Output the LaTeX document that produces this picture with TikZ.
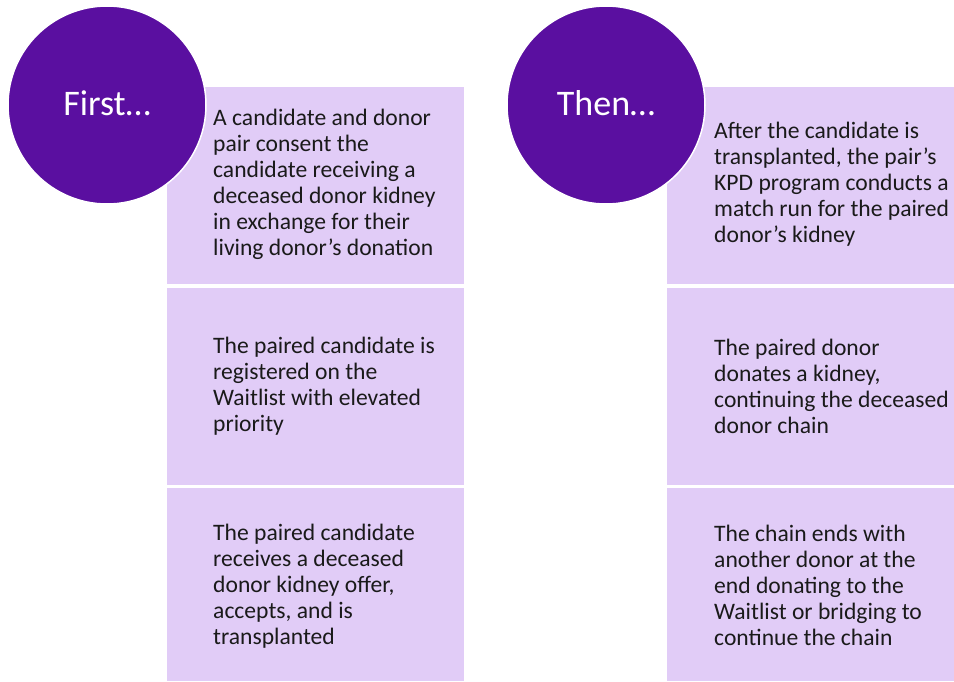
\documentclass[tikz,border=0pt]{standalone}
\usepackage{fontspec}
\setmainfont{Carlito}
\definecolor{boxfill}{HTML}{E1CCF7}
\definecolor{circfill}{HTML}{5A0FA0}
\definecolor{txt}{HTML}{1A1A1A}
\begin{document}
\begin{tikzpicture}[x=1pt,y=-1pt,
  stepbox/.style={rectangle,fill=boxfill,draw=none,anchor=north west,inner sep=0pt},
  steptext/.style={anchor=west,align=left,inner sep=0pt,text=txt,font=\fontsize{23.6}{26}\selectfont},
  headcirc/.style={circle,fill=circfill,draw=white,line width=1.5pt,minimum size=198pt,inner sep=0pt},
  headtext/.style={text=white,font=\fontsize{36}{40}\selectfont,inner sep=0pt}]
\useasboundingbox (0,0) rectangle (954,681);
% left column
\node[stepbox,minimum width=297pt,minimum height=197pt] (l1) at (167,87) {};
\node[stepbox,minimum width=297pt,minimum height=197pt] (l2) at (167,288) {};
\node[stepbox,minimum width=297pt,minimum height=193pt] (l3) at (167,488) {};
% right column
\node[stepbox,minimum width=287pt,minimum height=197pt] (r1) at (667,87) {};
\node[stepbox,minimum width=287pt,minimum height=197pt] (r2) at (667,288) {};
\node[stepbox,minimum width=287pt,minimum height=193pt] (r3) at (667,488) {};
% texts
\node[steptext] (tl1) at ([xshift=46pt,yshift=1pt]l1.west) {A candidate and donor\\pair consent the\\candidate receiving a\\deceased donor kidney\\in exchange for their\\living donor’s donation};
\node[steptext] (tl2) at ([xshift=46pt]l2.west) {The paired candidate is\\registered on the\\Waitlist with elevated\\priority};
\node[steptext] (tl3) at ([xshift=46pt,yshift=-1pt]l3.west) {The paired candidate\\receives a deceased\\donor kidney offer,\\accepts, and is\\transplanted};
\node[steptext] (tr1) at ([xshift=47pt,yshift=1pt]r1.west) {After the candidate is\\transplanted, the pair’s\\KPD program conducts a\\match run for the paired\\donor’s kidney};
\node[steptext] (tr2) at ([xshift=47pt]r2.west) {The paired donor\\donates a kidney,\\continuing the deceased\\donor chain};
\node[steptext] (tr3) at ([xshift=47pt,yshift=-1pt]r3.west) {The chain ends with\\another donor at the\\end donating to the\\Waitlist or bridging to\\continue the chain};
% circles
\node[headcirc] (c1) at (107,105) {};
\node[headtext] (h1) at (107,103) {First…};
\node[headcirc] (c2) at (606,105) {};
\node[headtext] (h2) at (606,103) {Then…};
\end{tikzpicture}
\end{document}
